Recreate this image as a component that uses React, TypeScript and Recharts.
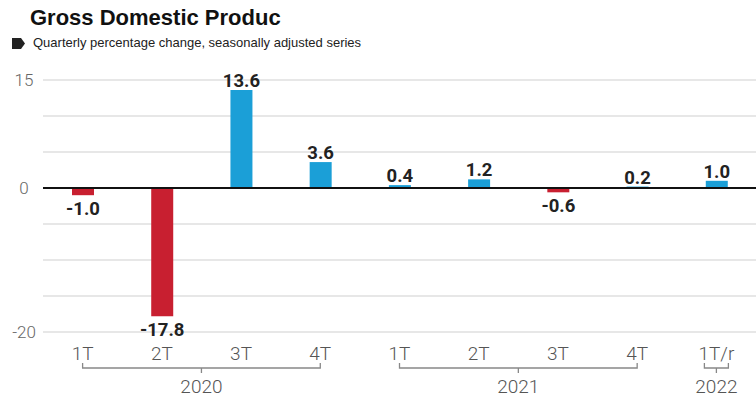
import { BarChart, Bar, XAxis, YAxis, CartesianGrid, ReferenceLine, Cell, LabelList } from "recharts";

const quarters = ["1T", "2T", "3T", "4T", "1T", "2T", "3T", "4T", "1T/r"];
const gdpChange = [-1.0, -17.8, 13.6, 3.6, 0.4, 1.2, -0.6, 0.2, 1.0];
const years = ["2020", "2021", "2022"];
const yearFirst = [0, 4, 8];
const yearLast = [3, 7, 8];
const yTicks = [-20, -15, -10, -5, 0, 5, 10, 15];
const yLabels = [15, 0, -20];

const W = 756;
const H = 397;
const LEFT = 43;
const BLUE = "#1b9fd7";
const RED = "#c81f30";
const step = (W - LEFT) / quarters.length;

const data = quarters.map((q, i) => ({ id: i, quarter: q, value: gdpChange[i] }));

function QuarterTick(props: any) {
  const { x, y, payload } = props;
  const i = payload.index ?? payload.value;
  const g = yearFirst.indexOf(i);
  let bracket = null;
  if (g >= 0) {
    const single = yearFirst[g] === yearLast[g];
    const x0 = single ? x - 12 : x;
    const x1 = single ? x + 12 : x + (yearLast[g] - yearFirst[g]) * step;
    const xm = (x0 + x1) / 2;
    const by = y + 36;
    bracket = (
      <g>
        <path
          d={`M${x0},${by - 5} L${x0},${by} L${x1},${by} L${x1},${by - 5} M${xm},${by} L${xm},${by + 5}`}
          stroke="#888"
          strokeWidth={1.3}
          fill="none"
        />
        <text x={xm} y={y + 61} textAnchor="middle" fontFamily="Roboto" fontWeight={300} fontSize={19} fill="#555">
          {years[g]}
        </text>
      </g>
    );
  }
  return (
    <g>
      <text x={x} y={y + 28} textAnchor="middle" fontFamily="Roboto" fontWeight={300} fontSize={19} fill="#555">
        {quarters[i]}
      </text>
      {bracket}
    </g>
  );
}

function ValueTick(props: any) {
  const { y, payload } = props;
  if (!yLabels.includes(payload.value)) return null;
  return (
    <text x={24} y={y} dy="0.35em" textAnchor="middle" fontFamily="Roboto" fontWeight={300} fontSize={17} fill="#666">
      {payload.value}
    </text>
  );
}

function ValueLabel(props: any) {
  const { x, y, width, height, value } = props;
  const cx = x + width / 2;
  const neg = value < 0;
  const top = Math.min(y, y + height);
  const bottom = Math.max(y, y + height);
  return (
    <text
      x={cx}
      y={neg ? bottom + 20 : top - 3}
      textAnchor="middle"
      fontFamily="Roboto"
      fontWeight={700}
      fontSize={18.5}
      fill="#222"
    >
      {value.toFixed(1)}
    </text>
  );
}

export default function App() {
  return (
    <div style={{ position: "absolute", left: 0, top: 0, width: W, height: H, background: "#fff" }}>
      <div
        style={{
          position: "absolute",
          left: 30,
          top: 5,
          fontFamily: "'Liberation Sans', Arial, sans-serif",
          fontWeight: 700,
          fontSize: 22,
          color: "#111",
        }}
      >
        Gross Domestic Produc
      </div>
      <svg style={{ position: "absolute", left: 0, top: 0 }} width={30} height={60}>
        <polygon points="12,38 21,38 25,43.5 21,49 12,49" fill="#222" />
      </svg>
      <div
        style={{
          position: "absolute",
          left: 33,
          top: 35,
          fontFamily: "'Liberation Sans', Arial, sans-serif",
          fontSize: 13,
          color: "#222",
        }}
      >
        Quarterly percentage change, seasonally adjusted series
      </div>
      <BarChart
        width={W}
        height={H}
        data={data}
        margin={{ top: 80, right: 0, bottom: 0, left: 0 }}
        barSize={22}
      >
        <CartesianGrid vertical={false} stroke="#cfcfcf" strokeWidth={1.2} />
        <XAxis
          dataKey="id"
          type="category"
          axisLine={false}
          tickLine={false}
          tickSize={0}
          tickMargin={0}
          height={65}
          interval={0}
          tick={<QuarterTick />}
        />
        <YAxis
          domain={[-20, 15]}
          ticks={yTicks}
          axisLine={false}
          tickLine={false}
          width={LEFT}
          interval={0}
          tick={<ValueTick />}
        />
        <ReferenceLine y={0} stroke="#111" strokeWidth={2} />
        <Bar dataKey="value" isAnimationActive={false}>
          {data.map((d) => (
            <Cell key={d.id} fill={d.value < 0 ? RED : BLUE} />
          ))}
          <LabelList dataKey="value" content={<ValueLabel />} />
        </Bar>
      </BarChart>
    </div>
  );
}
